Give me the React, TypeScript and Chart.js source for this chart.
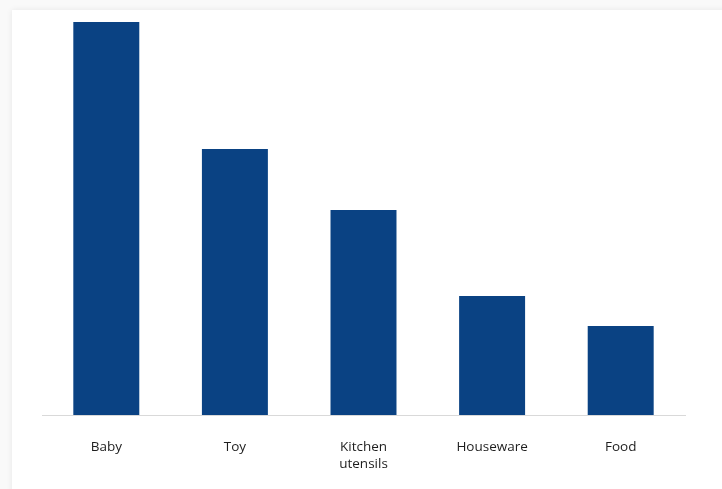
import React, { useEffect, useRef } from "react";
import { Chart, registerables } from "chart.js";

Chart.register(...registerables);

const categories: (string | string[])[] = ["Baby", "Toy", ["Kitchen", "utensils"], "Houseware", "Food"];
const values: number[] = [39.3, 26.6, 20.5, 11.9, 8.9];
const yMax = 40;

export default function App() {
  const ref = useRef<HTMLCanvasElement | null>(null);

  useEffect(() => {
    if (!ref.current) return;
    const chart = new Chart(ref.current, {
      type: "bar",
      data: {
        labels: categories,
        datasets: [
          {
            data: values,
            backgroundColor: "#0a4283",
            borderWidth: 0,
            categoryPercentage: 1,
            barPercentage: 0.513,
          },
        ],
      },
      options: {
        animation: false,
        responsive: false,
        layout: { padding: { left: 42, right: 37, top: 15, bottom: 0 } },
        plugins: { legend: { display: false }, tooltip: { enabled: false } },
        scales: {
          x: {
            grid: { display: false, drawTicks: false },
            border: { display: true, color: "#d9d9d9", width: 1 },
            ticks: {
              color: "#1e1e1e",
              font: { family: "'Open Sans', 'DejaVu Sans', sans-serif", size: 13.5, lineHeight: 1.3 },
              padding: 23,
              maxRotation: 0,
              autoSkip: false,
            },
            afterFit: (scale: any) => {
              scale.height = 74;
            },
          },
          y: { display: false, min: 0, max: yMax },
        },
      },
    });
    return () => chart.destroy();
  }, []);

  return (
    <div style={{ position: "fixed", left: 0, top: 0, width: 722, height: 489, background: "#f9f9f9", overflow: "hidden" }}>
      <div
        style={{
          position: "absolute",
          left: 12,
          top: 10,
          width: 760,
          height: 520,
          background: "#ffffff",
          boxShadow: "0 0 6px rgba(0,0,0,0.08)",
        }}
      />
      <canvas ref={ref} width={722} height={489} style={{ position: "absolute", left: 0, top: 0 }} />
    </div>
  );
}
